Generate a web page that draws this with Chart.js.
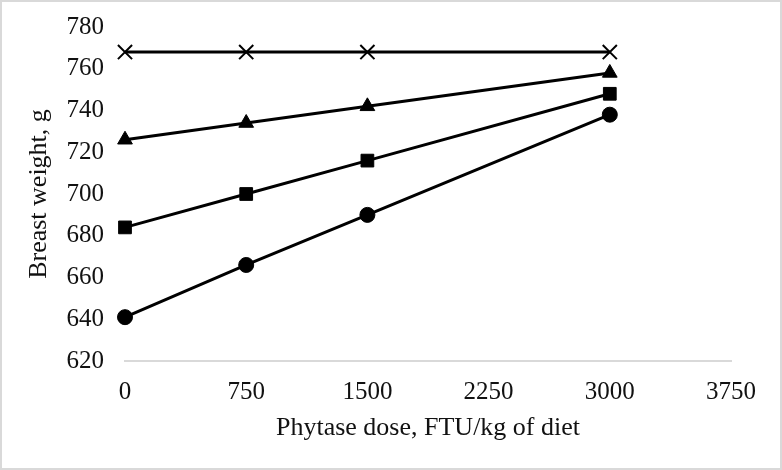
<!DOCTYPE html>
<html lang="en">
<head>
    <meta charset="UTF-8">
    <title>Breast weight vs phytase dose</title>
    <style>
        html, body {
            margin: 0;
            padding: 0;
            background: #ffffff;
        }
        .frame {
            box-sizing: border-box;
            width: 782px;
            height: 470px;
            border: 2px solid #d9d9d9;
            background: #ffffff;
        }
        .frame canvas {
            display: block;
        }
    </style>
    <script src="https://cdn.jsdelivr.net/npm/chart.js"></script>
</head>
<body>
    <div class="frame">
        <canvas id="weightChart" width="778" height="466"></canvas>
    </div>

    <script>
        // Doses on the x axis (FTU/kg of diet)
        const doses = [0, 750, 1500, 3000];

        // Breast weight (g)
        const seriesCross = [768, 768, 768, 768];
        const seriesTriangle = [726, 734, 742, 758];
        const seriesSquare = [684, 700, 716, 748];
        const seriesCircle = [641, 666, 690, 738];

        const xTicks = [0, 750, 1500, 2250, 3000, 3750];
        const yTicks = [620, 640, 660, 680, 700, 720, 740, 760, 780];

        const font = 'Liberation Serif, Times New Roman, serif';
        const textColor = '#111111';

        function toPoints(values) {
            return doses.map(function (d, i) { return { x: d, y: values[i] }; });
        }

        function makeSet(label, values, style, radius) {
            return {
                label: label,
                data: toPoints(values),
                borderColor: '#000000',
                backgroundColor: '#000000',
                borderWidth: 3,
                pointStyle: style,
                pointRadius: radius,
                pointHoverRadius: radius,
                pointBorderWidth: style === 'crossRot' ? 2 : 1,
                pointBackgroundColor: '#000000',
                pointBorderColor: '#000000',
                tension: 0,
                fill: false,
                clip: false
            };
        }

        const ctx = document.getElementById('weightChart').getContext('2d');
        new Chart(ctx, {
            type: 'line',
            data: {
                datasets: [
                    makeSet('A', seriesCross, 'crossRot', 10),
                    makeSet('B', seriesTriangle, 'triangle', 8.5),
                    makeSet('C', seriesSquare, 'rect', 9),
                    makeSet('D', seriesCircle, 'circle', 7.5)
                ]
            },
            options: {
                responsive: false,
                animation: false,
                layout: {
                    padding: { top: 25, right: 49, bottom: 0, left: 0 }
                },
                plugins: {
                    legend: { display: false },
                    tooltip: { enabled: false }
                },
                scales: {
                    x: {
                        type: 'linear',
                        min: 0,
                        max: 3750,
                        afterBuildTicks: function (scale) {
                            scale.ticks = xTicks.map(function (v) { return { value: v }; });
                        },
                        grid: {
                            display: true,
                            drawOnChartArea: false,
                            drawTicks: false
                        },
                        border: { display: true, color: '#d9d9d9', width: 2 },
                        ticks: {
                            padding: 16,
                            color: textColor,
                            font: { family: font, size: 25 },
                            maxRotation: 0,
                            callback: function (v) { return String(v); }
                        },
                        title: {
                            display: true,
                            text: 'Phytase dose, FTU/kg of diet',
                            color: textColor,
                            font: { family: font, size: 26 },
                            padding: { top: 5, bottom: 24 }
                        },
                        afterFit: function (scale) {
                            scale.height = 107;
                        }
                    },
                    y: {
                        min: 620,
                        max: 780,
                        afterBuildTicks: function (scale) {
                            scale.ticks = yTicks.map(function (v) { return { value: v }; });
                        },
                        grid: { display: false, drawTicks: false },
                        border: { display: false },
                        ticks: {
                            padding: 21,
                            color: textColor,
                            font: { family: font, size: 25 },
                            callback: function (v) { return String(v); }
                        },
                        title: {
                            display: true,
                            text: 'Breast weight, g',
                            color: textColor,
                            font: { family: font, size: 26 },
                            padding: { top: 22, bottom: 0 }
                        },
                        afterFit: function (scale) {
                            scale.width = 123;
                            // let the layout padding decide where the plot starts
                            scale.paddingTop = 0;
                            scale.paddingBottom = 0;
                        }
                    }
                }
            }
        });
    </script>
</body>
</html>
